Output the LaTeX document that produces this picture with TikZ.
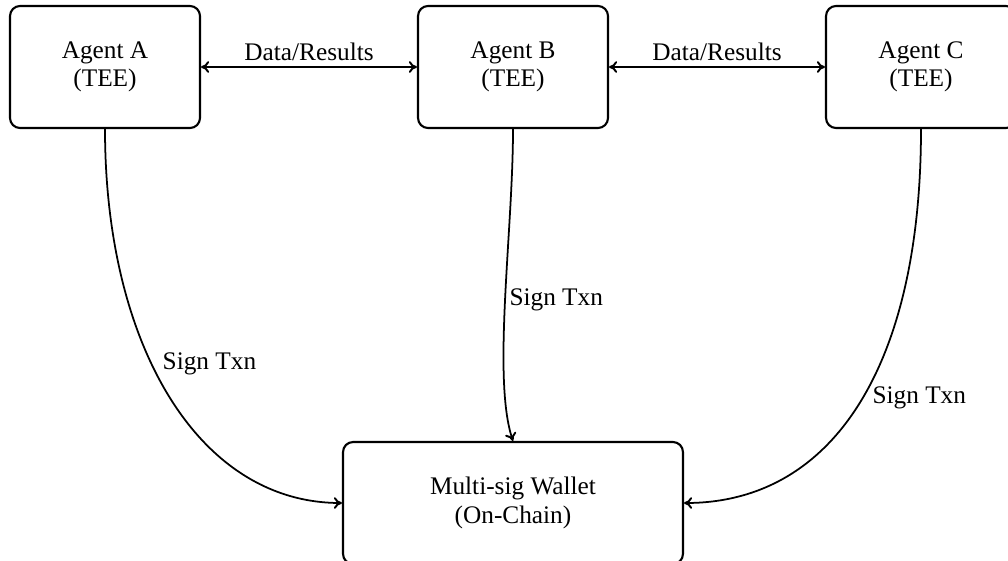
\documentclass[tikz,border=0pt]{standalone}
\usepackage{fontspec}
\usetikzlibrary{arrows.meta}
\setmainfont{Liberation Serif}
\begin{document}
\begin{tikzpicture}[x=0.02cm,y=-0.02cm,
  box/.style={draw, line width=1.2pt, rounded corners=0.2cm, align=center,
    minimum width=3.8cm, minimum height=2.44cm, inner sep=0pt,
    font=\fontsize{14.4}{16.2}\selectfont},
  tip/.tip={To[length=4.6pt,width=6.6pt,line width=1.1pt]},
  conn/.style={-tip, line width=1pt},
  dconn/.style={tip-tip, line width=1pt},
  lbl/.style={font=\fontsize{14.4}{16.2}\selectfont}]
\useasboundingbox (0,0) rectangle (1008,561);
\clip (0,0) rectangle (1008,561);
\node[box] (A) at (105,67) {Agent A\\(TEE)};
\node[box] (B) at (513,67) {Agent B\\(TEE)};
\node[box] (C) at (921,67) {Agent C\\(TEE)};
\node[box, minimum width=6.8cm] (W) at (513,503) {Multi-sig Wallet\\(On-Chain)};
\draw[dconn] (A) -- node[lbl, above] {Data/Results} (B);
\draw[dconn] (B) -- node[lbl, above] {Data/Results} (C);
\draw[conn] (A.south) .. controls +(0,217) and +(-143,0) .. node[lbl, pos=0.42, anchor=west, xshift=2.6pt] {Sign Txn} (W.west);
\draw[conn] (B.south) .. controls +(0,102) and +(-21,-62) .. node[lbl, pos=0.5, anchor=west, inner sep=2pt] {Sign Txn} (W.north);
\draw[conn] (C.south) .. controls +(0,235) and +(150,0) .. node[lbl, pos=0.5, anchor=west, xshift=4pt, yshift=3.4pt] {Sign Txn} (W.east);
\end{tikzpicture}
\end{document}
